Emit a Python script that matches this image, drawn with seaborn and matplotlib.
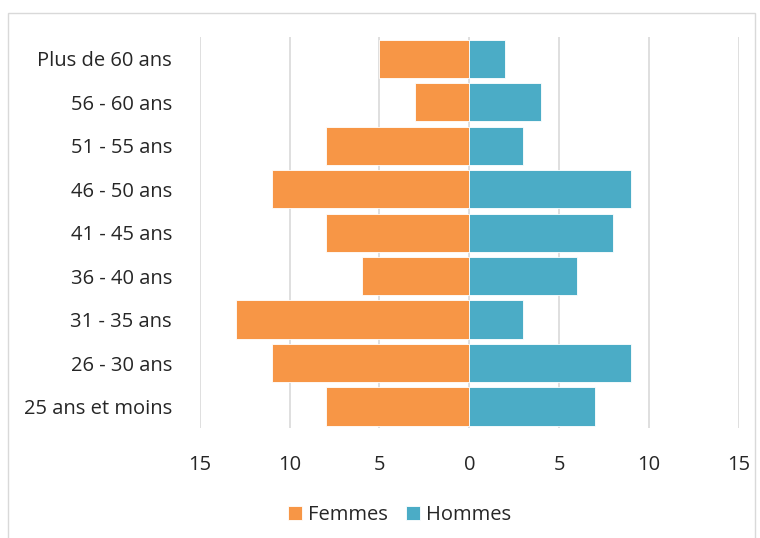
import pandas as pd
import seaborn as sns
import matplotlib.pyplot as plt
from matplotlib.patches import Rectangle

# --- données ---
ages = ["Plus de 60 ans", "56 - 60 ans", "51 - 55 ans", "46 - 50 ans", "41 - 45 ans",
        "36 - 40 ans", "31 - 35 ans", "26 - 30 ans", "25 ans et moins"]
femmes = [5, 3, 8, 11, 8, 6, 13, 11, 8]
hommes = [2, 4, 3, 9, 8, 6, 3, 9, 7]
x_ticks = [-15, -10, -5, 0, 5, 10, 15]

df = pd.DataFrame({
    "age": ages * 2,
    "valeur": [-v for v in femmes] + hommes,
    "sexe": ["Femmes"] * len(ages) + ["Hommes"] * len(ages),
})

couleurs = {"Femmes": "#F79646", "Hommes": "#4BACC6"}

sns.set_style("white")
plt.rcParams["font.family"] = ["Open Sans", "DejaVu Sans"]

fig = plt.figure(figsize=(7.6, 5.38), dpi=100)
ax = fig.add_axes([0.263, 0.204, 0.709, 0.727])

sns.barplot(data=df, y="age", x="valeur", hue="sexe", order=ages,
            palette=couleurs, saturation=1, dodge=False, width=0.88, orient="h",
            edgecolor="white", linewidth=0.6, ax=ax, zorder=3)

ax.set_xlim(-15, 15)
ax.set_xticks(x_ticks)
ax.set_xticklabels([str(abs(t)) for t in x_ticks], fontsize=14.5)
ax.tick_params(axis="x", pad=19, length=0)
ax.tick_params(axis="y", length=0, labelsize=14.5, pad=20)
ax.xaxis.grid(True, color="#d9d9d9", linewidth=1.2, zorder=0)
ax.set_axisbelow(True)
ax.set_xlabel("")
ax.set_ylabel("")
sns.despine(ax=ax, left=True, bottom=True)

ax.legend(loc="upper center", bbox_to_anchor=(0.37, -0.15), ncol=2, frameon=False,
          fontsize=14.5, handlelength=0.7, handleheight=0.7, columnspacing=0.9,
          handletextpad=0.3, title="")

# cadre
fig.patches.append(Rectangle((0.011, -0.01), 0.982, 0.985, transform=fig.transFigure,
                             fill=False, edgecolor="#d9d9d9", linewidth=1))

plt.savefig("out.png", dpi=100)
